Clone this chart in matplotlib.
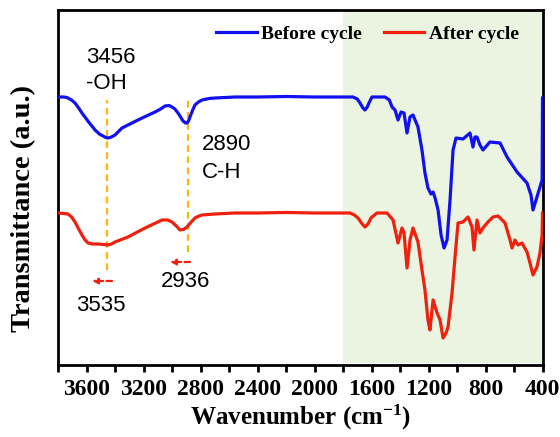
import numpy as np
import matplotlib
matplotlib.use("Agg")
import matplotlib.pyplot as plt

plt.rcParams["mathtext.fontset"] = "custom"
plt.rcParams["mathtext.rm"] = "Liberation Serif:bold"
plt.rcParams["mathtext.default"] = "regular"

# FTIR spectra (arbitrary transmittance units, curves already offset)
wn_before = [3800, 3760, 3737, 3705, 3681, 3655, 3632, 3585, 3540, 3510, 3484, 3465,
             3449, 3425, 3400, 3351, 3295, 3239, 3180, 3119, 3080, 3049, 3020,
             3000, 2980, 2958, 2940, 2923, 2905, 2895, 2884, 2874, 2855, 2839, 2815,
             2789, 2740, 2698, 2558, 2400, 2200, 2000,
             1850, 1786, 1730, 1700, 1681, 1660, 1646, 1630, 1618, 1597, 1505, 1475,
             1456, 1435, 1414, 1393,
             1372, 1351, 1330, 1309, 1274, 1246, 1225, 1204, 1183, 1168, 1154, 1133,
             1112, 1091, 1070, 1049, 1028, 1007, 958, 909, 888, 874, 860, 839, 818,
             769, 698, 649, 579, 509, 481, 467, 439, 418, 403, 400]
t_before = [268, 268, 267.5, 265, 262, 257, 252, 243, 235, 231, 229, 227.5,
            227, 228, 230, 237, 241, 245, 249, 253, 256, 259, 259.5,
            258, 256, 252, 248, 244, 242, 242, 244, 248, 255, 260, 263,
            265, 266.5, 267, 268, 268, 268.5, 268,
            268, 268, 268, 266, 262, 257, 255, 258, 262, 268, 268, 265,
            258, 255, 245, 253,
            252, 232, 248, 250, 238, 215, 192, 177, 171, 173, 167, 155,
            130, 117, 125, 165, 215, 227, 226, 232, 218, 228, 228, 220, 215,
            223, 222, 208, 193, 182, 170, 155, 168, 178, 185, 267]

wn_after = [3800, 3730, 3705, 3681, 3655, 3632, 3610, 3589, 3560, 3519, 3449, 3425,
            3400, 3309, 3189, 3070, 3030, 3000,
            2970, 2944, 2920, 2895, 2865, 2839, 2810, 2789, 2700, 2558, 2400, 2200, 2000,
            1850, 1751, 1720, 1695, 1665, 1646, 1625,
            1604, 1562, 1491, 1449, 1414, 1386, 1372, 1351, 1330, 1309, 1274, 1246,
            1225, 1204, 1190, 1168, 1140, 1119, 1098, 1077, 1063, 1035, 1014, 993,
            958, 923, 895, 881, 860, 839, 818, 783, 747, 712, 663, 628, 614, 593,
            572, 544, 509, 488, 467, 439, 418, 403, 400]
t_after = [152, 151, 148, 143, 136, 130, 125, 122, 121, 121, 120, 121,
           123, 128, 137, 145, 145, 143,
           139, 135, 135.5, 138, 143, 147, 149, 150, 151, 152, 152, 152.5, 152,
           152, 152, 150, 147, 141, 138, 141,
           147, 152, 152, 145, 122, 137, 132, 97, 125, 137, 123, 95,
           75, 45, 35, 65, 52, 45, 27, 32, 38, 72, 108, 142,
           143, 148, 138, 115, 145, 132, 137, 143, 148, 149, 142, 125, 117, 125,
           120, 122, 113, 102, 90, 98, 112, 130, 152]

labels = ["Before cycle", "After cycle"]
colors = ["#1010f0", "#f0200f"]

# band positions marked on the spectra
peaks = [3456, 2890]
peak_tops = [265, 268]
peak_bottoms = [95, 113]
shift_from = [3421, 2874]
shift_to = [3561, 3014]
shift_y = [84, 103]

fig = plt.figure(figsize=(5.6, 4.37), dpi=100)
ax = fig.add_axes([0.1036, 0.1648, 0.8652, 0.8123])

ax.axvspan(1800, 404, ymin=0.006, ymax=1, color="#ebf3e1", lw=0, zorder=0)

ax.plot(wn_before, t_before, color=colors[0], lw=2.3, label=labels[0],
        solid_joinstyle="round", zorder=3)
ax.plot(wn_after, t_after, color=colors[1], lw=2.3, label=labels[1],
        solid_joinstyle="round", zorder=3)

for p, top, bot in zip(peaks, peak_tops, peak_bottoms):
    ax.plot([p, p], [bot, top], color="#ffb414", lw=1.6, ls=(0, (3, 2)), zorder=2)

for x0, x1, y in zip(shift_from, shift_to, shift_y):
    ax.annotate("", xy=(x1, y), xytext=(x0, y),
                arrowprops=dict(arrowstyle="-|>", color=colors[1], lw=1.6,
                                ls=(0, (2.5, 1.5)), mutation_scale=8,
                                shrinkA=0, shrinkB=0))

tfont = dict(family="Liberation Sans", fontsize=16, color="black")
ax.text(3604, 308, "3456", va="center", ha="left", **tfont)
ax.text(3604, 282, "-OH", va="center", ha="left", **tfont)
ax.text(2789, 220, "2890", va="center", ha="left", **tfont)
ax.text(2789, 192, "C-H", va="center", ha="left", **tfont)
ax.text(2905, 83, "2936", va="center", ha="center", **tfont)
ax.text(3498, 59, "3535", va="center", ha="center", **tfont)

ax.set_xlim(3800, 400)
ax.set_ylim(0, 355)
ax.set_xticks(np.arange(3600, 399, -400))
ax.set_xticks(np.arange(3800, 399, -200), minor=True)
ax.set_yticks([])
ax.tick_params(axis="x", which="both", direction="out", length=5, width=2, pad=5)
for lab in ax.get_xticklabels():
    lab.set_fontfamily("Liberation Serif")
    lab.set_fontweight("bold")
    lab.set_fontsize(17)
for s in ax.spines.values():
    s.set_linewidth(2)

ax.set_xlabel("Wavenumber (cm$^{-1}$)", family="Liberation Serif",
              fontweight="bold", fontsize=18, labelpad=2)
ax.set_ylabel("Transmittance (a.u.)", family="Liberation Serif",
              fontweight="bold", fontsize=20.5)
ax.yaxis.set_label_coords(-0.045, 0.44)

ax.legend(loc="upper right", ncol=2, frameon=False, handlelength=2.1,
          columnspacing=1.1, handletextpad=0.25, borderaxespad=0.8,
          bbox_to_anchor=(1.0, 1.023),
          prop=dict(family="Liberation Serif", weight="bold", size=14))

fig.savefig("out.png", dpi=100)
